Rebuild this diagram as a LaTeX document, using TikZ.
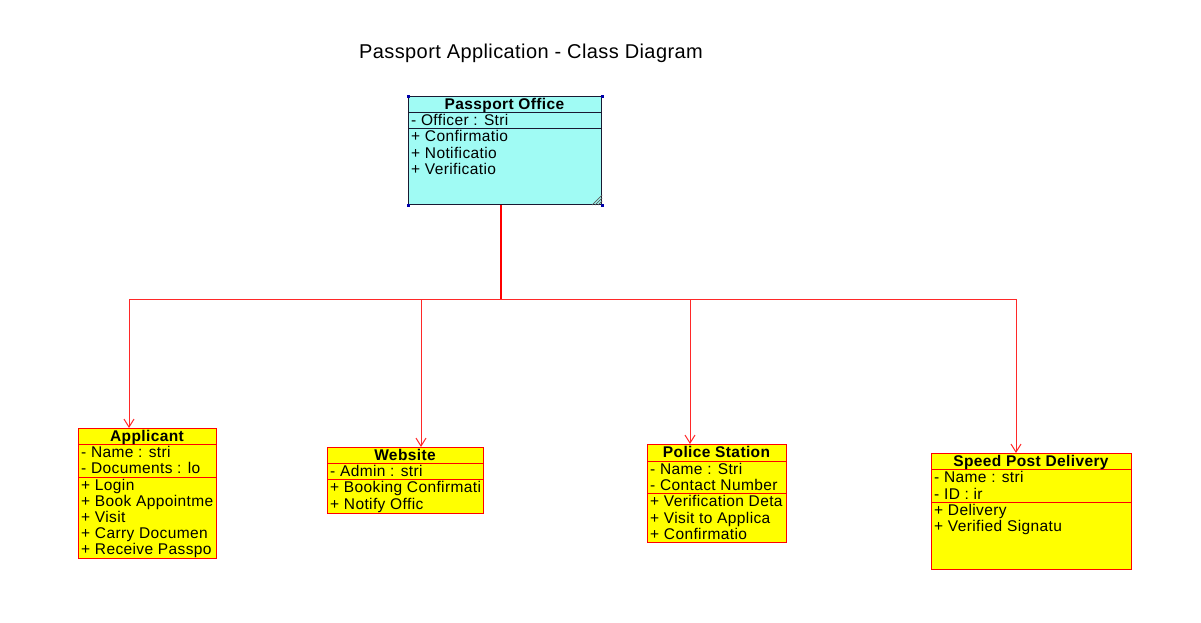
\documentclass[tikz,border=0pt]{standalone}
\usepackage{fontspec}
\setmainfont{Liberation Sans}
\newfontfamily\boxfont[LetterSpace=2.5]{Liberation Sans}
\newfontfamily\titlefont[LetterSpace=2]{Liberation Sans}
\usetikzlibrary{arrows.meta}
\definecolor{pocyan}{RGB}{160,251,244}
\definecolor{clsyellow}{RGB}{255,255,0}
\definecolor{linered}{RGB}{255,40,40}
\definecolor{podark}{RGB}{25,25,50}
\definecolor{cornerblue}{RGB}{0,0,170}
\definecolor{gripgray}{RGB}{90,90,90}
\begin{document}
\begin{tikzpicture}[x=1pt,y=-1pt,
  cls/.style={draw=red, line width=1pt, inner sep=0pt, anchor=north west},
  pobox/.style={draw=podark, line width=1pt, fill=pocyan, inner sep=0pt, anchor=north west},
  sepline/.style={draw=red, line width=1pt},
  posep/.style={draw=podark, line width=1pt},
  txt/.style={anchor=mid west, inner sep=0pt, font=\boxfont\fontsize{15.5}{17}\selectfont},
  hdr/.style={anchor=mid, inner sep=0pt, font=\boxfont\bfseries\fontsize{15.5}{17}\selectfont},
  conn/.style={draw=linered, line width=1pt, -{Straight Barb[length=8pt,width=10pt]}},
  trunk/.style={draw=red, line width=2.5pt},
  corner/.style={fill=cornerblue, draw=none, minimum size=3pt, inner sep=0pt},
  grip/.style={draw=gripgray, line width=0.7pt}
]
\useasboundingbox (0,0) rectangle (1201,622);
\fill[white] (0,0) rectangle (1201,622);

% title
\node[font=\titlefont\fontsize{20}{23}\selectfont, inner sep=0pt, anchor=mid] (title) at (531,55.5) {Passport Application - Class Diagram};

% ---------- Passport Office ----------
\node[pobox, minimum width=193pt, minimum height=108pt] (po) at (408,96) {};
\draw[posep] (po.west |- 0,112) -- (po.east |- 0,112);
\draw[posep] (po.west |- 0,128) -- (po.east |- 0,128);
\begin{scope}
\clip (po.north west) rectangle (po.south east);
\node[hdr] (po-t) at (504.5,107) {Passport Office};
\node[txt] (po-a1) at (411,123) {- Officer : Stri};
\node[txt] (po-o1) at (411,139) {+ Confirmatio};
\node[txt] (po-o2) at (411,156) {+ Notificatio};
\node[txt] (po-o3) at (411,172) {+ Verificatio};
\end{scope}
\node[corner] (po-c1) at (po.north west) {};
\node[corner] (po-c2) at (po.north east) {};
\node[corner] (po-c3) at (po.south west) {};
\node[corner] (po-c4) at (po.south east) {};
\draw[grip] ([xshift=-10pt]po.south east) -- ([yshift=10pt]po.south east);
\draw[grip] ([xshift=-7pt]po.south east) -- ([yshift=7pt]po.south east);
\draw[grip] ([xshift=-4pt]po.south east) -- ([yshift=4pt]po.south east);

% ---------- Applicant ----------
\node[cls, fill=clsyellow, minimum width=138pt, minimum height=130pt] (app) at (78,428) {};
\draw[sepline] (app.west |- 0,444) -- (app.east |- 0,444);
\draw[sepline] (app.west |- 0,477) -- (app.east |- 0,477);
\begin{scope}
\clip ([xshift=1pt]app.north west) rectangle ([xshift=-2pt]app.south east);
\node[hdr] (app-t) at (147,438.5) {Applicant};
\node[txt] (app-a1) at (81,455) {- Name : stri};
\node[txt] (app-a2) at (81,471) {- Documents : lo};
\node[txt] (app-o1) at (81,488) {+ Login};
\node[txt] (app-o2) at (81,504) {+ Book Appointme};
\node[txt] (app-o3) at (81,520) {+ Visit};
\node[txt] (app-o4) at (81,536) {+ Carry Documen};
\node[txt] (app-o5) at (81,552) {+ Receive Passpo};
\end{scope}

% ---------- Website ----------
\node[cls, fill=clsyellow, minimum width=156pt, minimum height=66pt] (web) at (327,447) {};
\draw[sepline] (web.west |- 0,463) -- (web.east |- 0,463);
\draw[sepline] (web.west |- 0,479) -- (web.east |- 0,479);
\begin{scope}
\clip ([xshift=1pt]web.north west) rectangle ([xshift=-2pt]web.south east);
\node[hdr] (web-t) at (405,458) {Website};
\node[txt] (web-a1) at (330,474) {- Admin : stri};
\node[txt] (web-o1) at (330,490) {+ Booking Confirmati};
\node[txt] (web-o2) at (330,507) {+ Notify Offic};
\end{scope}

% ---------- Police Station ----------
\node[cls, fill=clsyellow, minimum width=139pt, minimum height=98pt] (pol) at (647,444) {};
\draw[sepline] (pol.west |- 0,461) -- (pol.east |- 0,461);
\draw[sepline] (pol.west |- 0,493) -- (pol.east |- 0,493);
\begin{scope}
\clip ([xshift=1pt]pol.north west) rectangle ([xshift=-2pt]pol.south east);
\node[hdr] (pol-t) at (716.5,455) {Police Station};
\node[txt] (pol-a1) at (650,472) {- Name : Stri};
\node[txt] (pol-a2) at (650,488) {- Contact Number};
\node[txt] (pol-o1) at (650,504) {+ Verification Deta};
\node[txt] (pol-o2) at (650,521) {+ Visit to Applica};
\node[txt] (pol-o3) at (650,537) {+ Confirmatio};
\end{scope}

% ---------- Speed Post Delivery ----------
\node[cls, fill=clsyellow, minimum width=200pt, minimum height=116pt] (spd) at (931,453) {};
\draw[sepline] (spd.west |- 0,469) -- (spd.east |- 0,469);
\draw[sepline] (spd.west |- 0,502) -- (spd.east |- 0,502);
\begin{scope}
\clip (spd.north west) rectangle (spd.south east);
\node[hdr] (spd-t) at (1031,464) {Speed Post Delivery};
\node[txt] (spd-a1) at (934,480) {- Name : stri};
\node[txt] (spd-a2) at (934,497) {- ID : ir};
\node[txt] (spd-o1) at (934,513) {+ Delivery};
\node[txt] (spd-o2) at (934,529) {+ Verified Signatu};
\end{scope}

% ---------- connectors ----------
\coordinate (j) at (501,299.5);
\draw[trunk] (po.south -| j) -- (j);
\draw[conn] (j) -| (app.north -| 129,0);
\draw[conn] (j) -| (web.north -| 421,0);
\draw[conn] (j) -| (pol.north -| 690,0);
\draw[conn] (j) -| (spd.north -| 1016,0);
\end{tikzpicture}
\end{document}
